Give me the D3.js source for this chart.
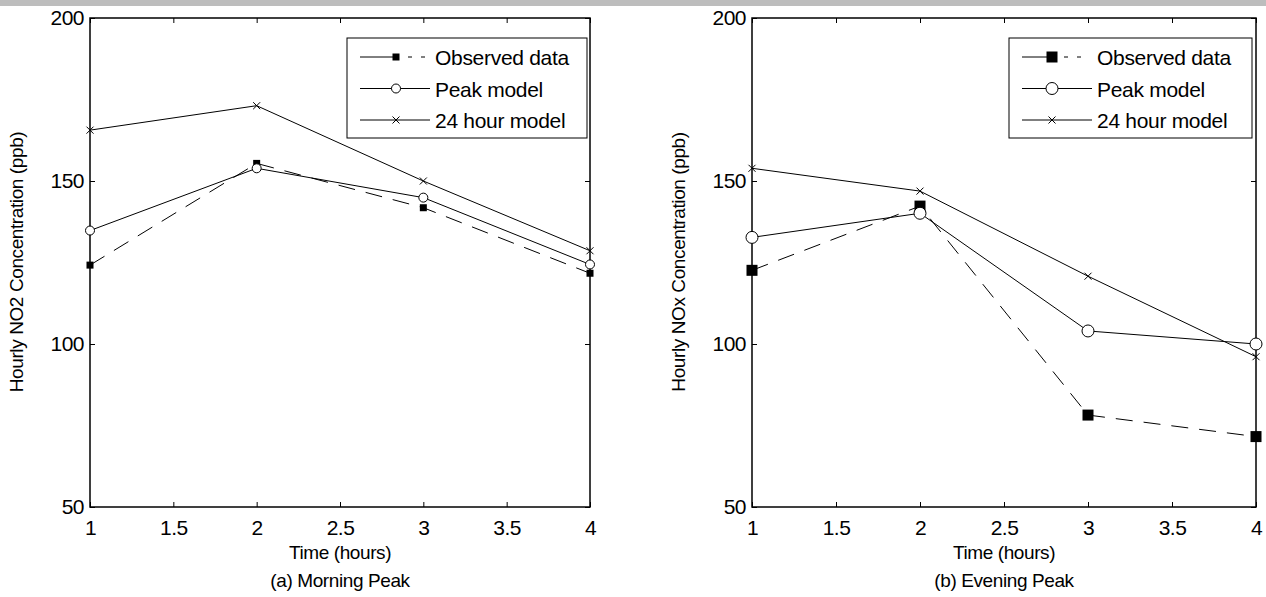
<!DOCTYPE html>
<html>
<head>
<meta charset="utf-8">
<script src="https://cdn.jsdelivr.net/npm/d3@7"></script>
<style>
  body { margin: 0; background: #fff; }
  text { font-family: "Liberation Sans", Arial, sans-serif; fill: #000; }
</style>
</head>
<body>
<svg id="chart" width="1266" height="597"></svg>
<script>
// data
const hours = [1, 2, 3, 4];
const morningObserved = [124.2, 155.4, 141.8, 121.7];
const morningPeak = [134.8, 153.9, 144.9, 124.4];
const morning24 = [165.6, 173.1, 150.0, 128.6];
const eveningObserved = [122.6, 142.3, 78.2, 71.6];
const eveningPeak = [132.7, 140.1, 104.0, 100.0];
const evening24 = [153.9, 146.9, 120.8, 96.1];
const xTicks = [1, 1.5, 2, 2.5, 3, 3.5, 4];
const yTicks = [50, 100, 150, 200];
const seriesNames = ["Observed data", "Peak model", "24 hour model"];

const svg = d3.select("#chart");

svg.append("rect")
    .attr("x", 0).attr("y", 0)
    .attr("width", 1266).attr("height", 6)
    .style("fill", "#bdbdbd");

function drawPanel(opt) {
    const x = d3.scaleLinear().domain([1, 4]).range([opt.left, opt.right]);
    const y = d3.scaleLinear().domain([50, 200]).range([507, 18]);
    const g = svg.append("g");

    // ticks pointing inwards on all four sides
    g.append("g").attr("transform", "translate(0,507)")
        .call(d3.axisBottom(x).tickValues(xTicks).tickSize(-5).tickPadding(13)
            .tickFormat(d3.format("")))
        .call(a => a.select(".domain").remove());
    g.append("g").attr("transform", "translate(0,18)")
        .call(d3.axisTop(x).tickValues(xTicks).tickSize(-5).tickFormat(""))
        .call(a => a.select(".domain").remove());
    g.append("g").attr("transform", `translate(${opt.left},0)`)
        .call(d3.axisLeft(y).tickValues(yTicks).tickSize(-5).tickPadding(6))
        .call(a => a.select(".domain").remove());
    g.append("g").attr("transform", `translate(${opt.right},0)`)
        .call(d3.axisRight(y).tickValues(yTicks).tickSize(-5).tickFormat(""))
        .call(a => a.select(".domain").remove());

    g.selectAll(".tick line").style("stroke", "#000").style("stroke-width", 1);
    g.selectAll(".tick text")
        .style("font-size", "21px")
        .style("letter-spacing", "-0.5px")
        .style("font-family", "'Liberation Sans', Arial, sans-serif");

    g.append("rect")
        .attr("x", opt.left).attr("y", 18)
        .attr("width", opt.right - opt.left).attr("height", 489)
        .style("fill", "none").style("stroke", "#000").style("stroke-width", 1.5);

    const line = d3.line().x((d, i) => x(hours[i])).y(d => y(d));

    const series = [
        { values: opt.observed, dash: "17,11", marker: "square" },
        { values: opt.peak, dash: null, marker: "circle" },
        { values: opt.full, dash: null, marker: "cross" }
    ];

    series.forEach(s => {
        g.append("path")
            .datum(s.values)
            .attr("d", line)
            .style("fill", "none")
            .style("stroke", "#000")
            .style("stroke-width", 1)
            .style("stroke-dasharray", s.dash);
        drawMarkers(g, s.values.map((v, i) => [x(hours[i]), y(v)]), s.marker, opt.size);
    });

    // legend
    const lg = g.append("g");
    lg.append("rect")
        .attr("x", opt.legX).attr("y", 38)
        .attr("width", opt.legW).attr("height", 100)
        .style("fill", "#fff").style("stroke", "#000").style("stroke-width", 1);
    series.forEach((s, i) => {
        const ly = 57 + i * 31.5;
        const x0 = opt.legX + 13, x1 = x0 + 70, xm = x0 + opt.legMarker;
        if (s.dash) {
            lg.append("line").attr("x1", x0).attr("x2", xm).attr("y1", ly).attr("y2", ly)
                .style("stroke", "#000");
            lg.append("line").attr("x1", xm + 12).attr("x2", xm + 16).attr("y1", ly).attr("y2", ly)
                .style("stroke", "#000");
            lg.append("line").attr("x1", xm + 25).attr("x2", xm + 29).attr("y1", ly).attr("y2", ly)
                .style("stroke", "#000");
        } else {
            lg.append("line").attr("x1", x0).attr("x2", x1).attr("y1", ly).attr("y2", ly)
                .style("stroke", "#000");
        }
        drawMarkers(lg, [[xm, ly]], s.marker, opt.size);
        lg.append("text")
            .attr("x", x1 + 5).attr("y", ly + 8)
            .style("font-size", "21px")
            .style("letter-spacing", "-0.3px")
            .text(seriesNames[i]);
    });

    const cx = (opt.left + opt.right) / 2;
    g.append("text").attr("x", cx).attr("y", 559)
        .attr("text-anchor", "middle").style("font-size", "19px")
        .style("letter-spacing", "-0.4px").text("Time (hours)");
    g.append("text").attr("x", cx).attr("y", 587)
        .attr("text-anchor", "middle").style("font-size", "19px")
        .style("letter-spacing", "-0.4px").text(opt.caption);
    g.append("text")
        .attr("transform", `translate(${opt.left - 67},262) rotate(-90)`)
        .attr("text-anchor", "middle").style("font-size", "19px")
        .style("letter-spacing", "-0.4px").text(opt.ylabel);
}

function drawMarkers(g, pts, kind, size) {
    pts.forEach(p => {
        if (kind === "square") {
            g.append("rect")
                .attr("x", p[0] - size.sq / 2).attr("y", p[1] - size.sq / 2)
                .attr("width", size.sq).attr("height", size.sq)
                .style("fill", "#000");
        } else if (kind === "circle") {
            g.append("circle")
                .attr("cx", p[0]).attr("cy", p[1]).attr("r", size.r)
                .style("fill", "#fff").style("stroke", "#000").style("stroke-width", 1);
        } else {
            const c = size.x;
            g.append("path")
                .attr("d", `M${p[0] - c},${p[1] - c}L${p[0] + c},${p[1] + c}M${p[0] - c},${p[1] + c}L${p[0] + c},${p[1] - c}`)
                .style("stroke", "#000").style("stroke-width", 1);
        }
    });
}

drawPanel({
    left: 90, right: 590,
    observed: morningObserved, peak: morningPeak, full: morning24,
    size: { sq: 7, r: 4.5, x: 3.5 },
    legX: 347, legW: 240, legMarker: 36,
    caption: "(a) Morning Peak",
    ylabel: "Hourly NO2 Concentration (ppb)"
});

drawPanel({
    left: 752, right: 1256,
    observed: eveningObserved, peak: eveningPeak, full: evening24,
    size: { sq: 11, r: 6, x: 3.5 },
    legX: 1009, legW: 243, legMarker: 30,
    caption: "(b) Evening Peak",
    ylabel: "Hourly NOx Concentration (ppb)"
});
</script>
</body>
</html>
